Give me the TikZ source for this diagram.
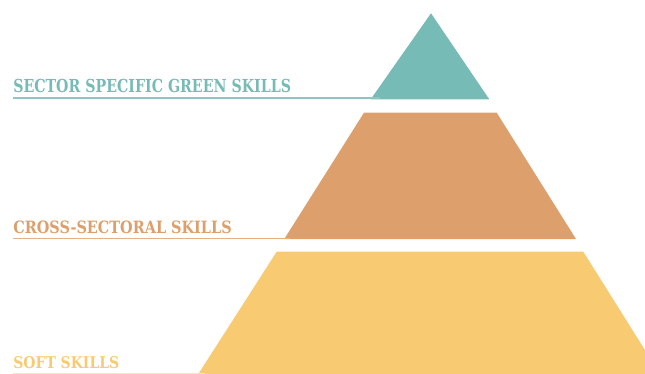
\documentclass[tikz,border=0pt]{standalone}
\usepackage{fontspec}
\setmainfont{DejaVu Serif Condensed}
\definecolor{pyrTeal}{HTML}{77BBB7}
\definecolor{pyrTealLine}{HTML}{8CC5C1}
\definecolor{pyrOrange}{HTML}{DD9F6B}
\definecolor{pyrOrangeLine}{HTML}{E6B083}
\definecolor{pyrYellow}{HTML}{F8CB72}
\definecolor{pyrYellowLine}{HTML}{FBE5B6}
\begin{document}
\begin{tikzpicture}[x=1pt,y=-1pt,
  tierlabel/.style={anchor=south west, inner sep=0pt, outer sep=0pt, font=\bfseries}]
\useasboundingbox (0,0) rectangle (645,374);

% pyramid tiers
\fill[pyrTeal] (431,13.3) -- (489.3,99.3) -- (370.7,99.3) -- cycle;
\fill[pyrOrange] (364,112.7) -- (496.7,112.7) -- (576,239) -- (284.3,239) -- cycle;
\begin{scope}
  \clip (0,0) rectangle (645,374);
  \fill[pyrYellow] (276.7,251.7) -- (583.3,251.7) -- (660,374) -- (198.3,374) -- cycle;
\end{scope}

% labels
\node[tierlabel, text=pyrTeal] (sector) at (13.3,92.6)
  {\resizebox{277.7pt}{13.3pt}{SECTOR SPECIFIC GREEN SKILLS}};
\node[tierlabel, text=pyrOrange] (cross) at (13.3,234)
  {\resizebox{218.4pt}{12.6pt}{CROSS-SECTORAL SKILLS}};
\node[tierlabel, text=pyrYellow] (soft) at (13.3,368.3)
  {\resizebox{106pt}{12pt}{SOFT SKILLS}};

% leader lines under the labels
\coordinate (sectorEnd) at (380,98.4);
\coordinate (crossEnd) at (290,238.5);
\coordinate (softEnd) at (205,373.4);
\draw[pyrTealLine, line width=1.8pt] (sector.south west |- sectorEnd) -- (sectorEnd);
\draw[pyrOrangeLine, line width=1.4pt] (cross.south west |- crossEnd) -- (crossEnd);
\draw[pyrYellowLine, line width=1.2pt] (soft.south west |- softEnd) -- (softEnd);
\end{tikzpicture}
\end{document}
